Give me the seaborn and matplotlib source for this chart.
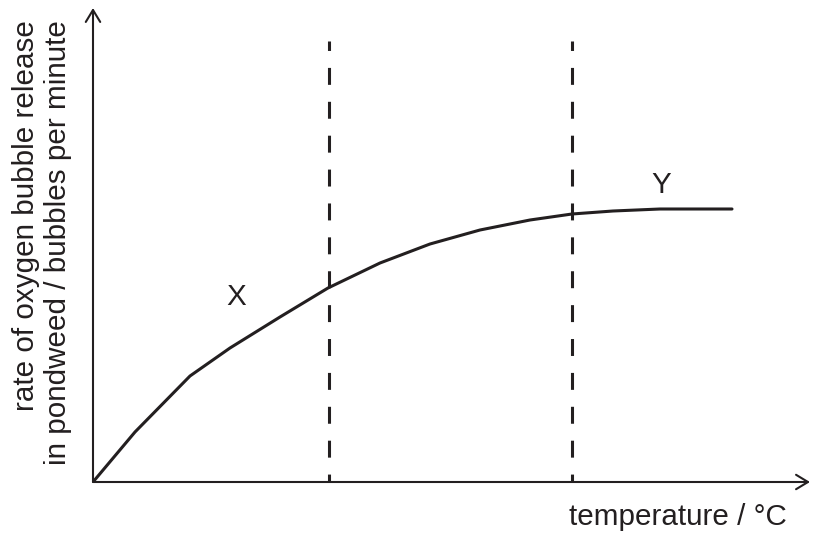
import numpy as np
import pandas as pd
import matplotlib
matplotlib.use("Agg")
import matplotlib.pyplot as plt
import seaborn as sns

# curve (arbitrary units, origin at the axes corner)
temperature = [0, 4.2, 9.7, 13.7, 18.7, 23.5, 28.7, 33.7, 38.7, 43.7, 47.9, 52.0, 56.7, 63.9]
rate = [0, 5.0, 10.6, 13.4, 16.5, 19.4, 21.9, 23.8, 25.2, 26.2, 26.8, 27.1, 27.3, 27.3]

# dashed boundaries and axis extents
boundaries = [23.6, 47.9]
boundary_top = 44.1
x_max = 71.7
y_max = 47.4

# point labels
point_names = ["X", "Y"]
point_x = [14.3, 56.8]
point_y = [17.7, 28.9]

ylabel_text = "rate of oxygen bubble release\nin pondweed / bubbles per minute"
xlabel_text = "temperature / °C"

INK = "#231f20"
FS = 21.3

sns.set_style("white")
plt.rcParams["font.family"] = ["Liberation Sans", "DejaVu Sans"]
plt.rcParams["lines.scale_dashes"] = False

df = pd.DataFrame({"temperature": temperature, "rate": rate})

fig = plt.figure(figsize=(8.14, 5.42), dpi=100)
ax = fig.add_axes([93 / 814, 60 / 542, (810 - 93) / 814, (482 - 8) / 542])

sns.lineplot(data=df, x="temperature", y="rate", ax=ax, color=INK, lw=2.2,
             sort=False, estimator=None, solid_joinstyle="round")

ax.vlines(boundaries, 0, boundary_top, colors=INK, lw=2.2,
          linestyles=[(6.5, (12.2, 12.2))])

# axes drawn as arrows
arrow = dict(arrowstyle="->,head_length=0.43,head_width=0.26", color=INK,
             lw=1.5, mutation_scale=20, shrinkA=0, shrinkB=0)
ax.annotate("", xy=(x_max, 0), xytext=(0, 0), arrowprops=arrow)
ax.annotate("", xy=(0, y_max), xytext=(0, 0), arrowprops=arrow)

for name, px, py in zip(point_names, point_x, point_y):
    ax.text(px, py, name, ha="center", va="baseline", fontsize=FS, color=INK)

ax.set_xlim(0, x_max)
ax.set_ylim(0, y_max)
ax.set_xticks([])
ax.set_yticks([])
ax.set_xlabel("")
ax.set_ylabel("")
for s in ax.spines.values():
    s.set_visible(False)
ax.patch.set_alpha(0)

fig.text(12 / 814, 1 - 20 / 542, ylabel_text, rotation=90, ha="left", va="top",
         multialignment="right", fontsize=FS, color=INK)
fig.text(787 / 814, 1 - 525 / 542, xlabel_text, ha="right", va="baseline",
         fontsize=FS, color=INK)

fig.savefig("out.png", dpi=100)
